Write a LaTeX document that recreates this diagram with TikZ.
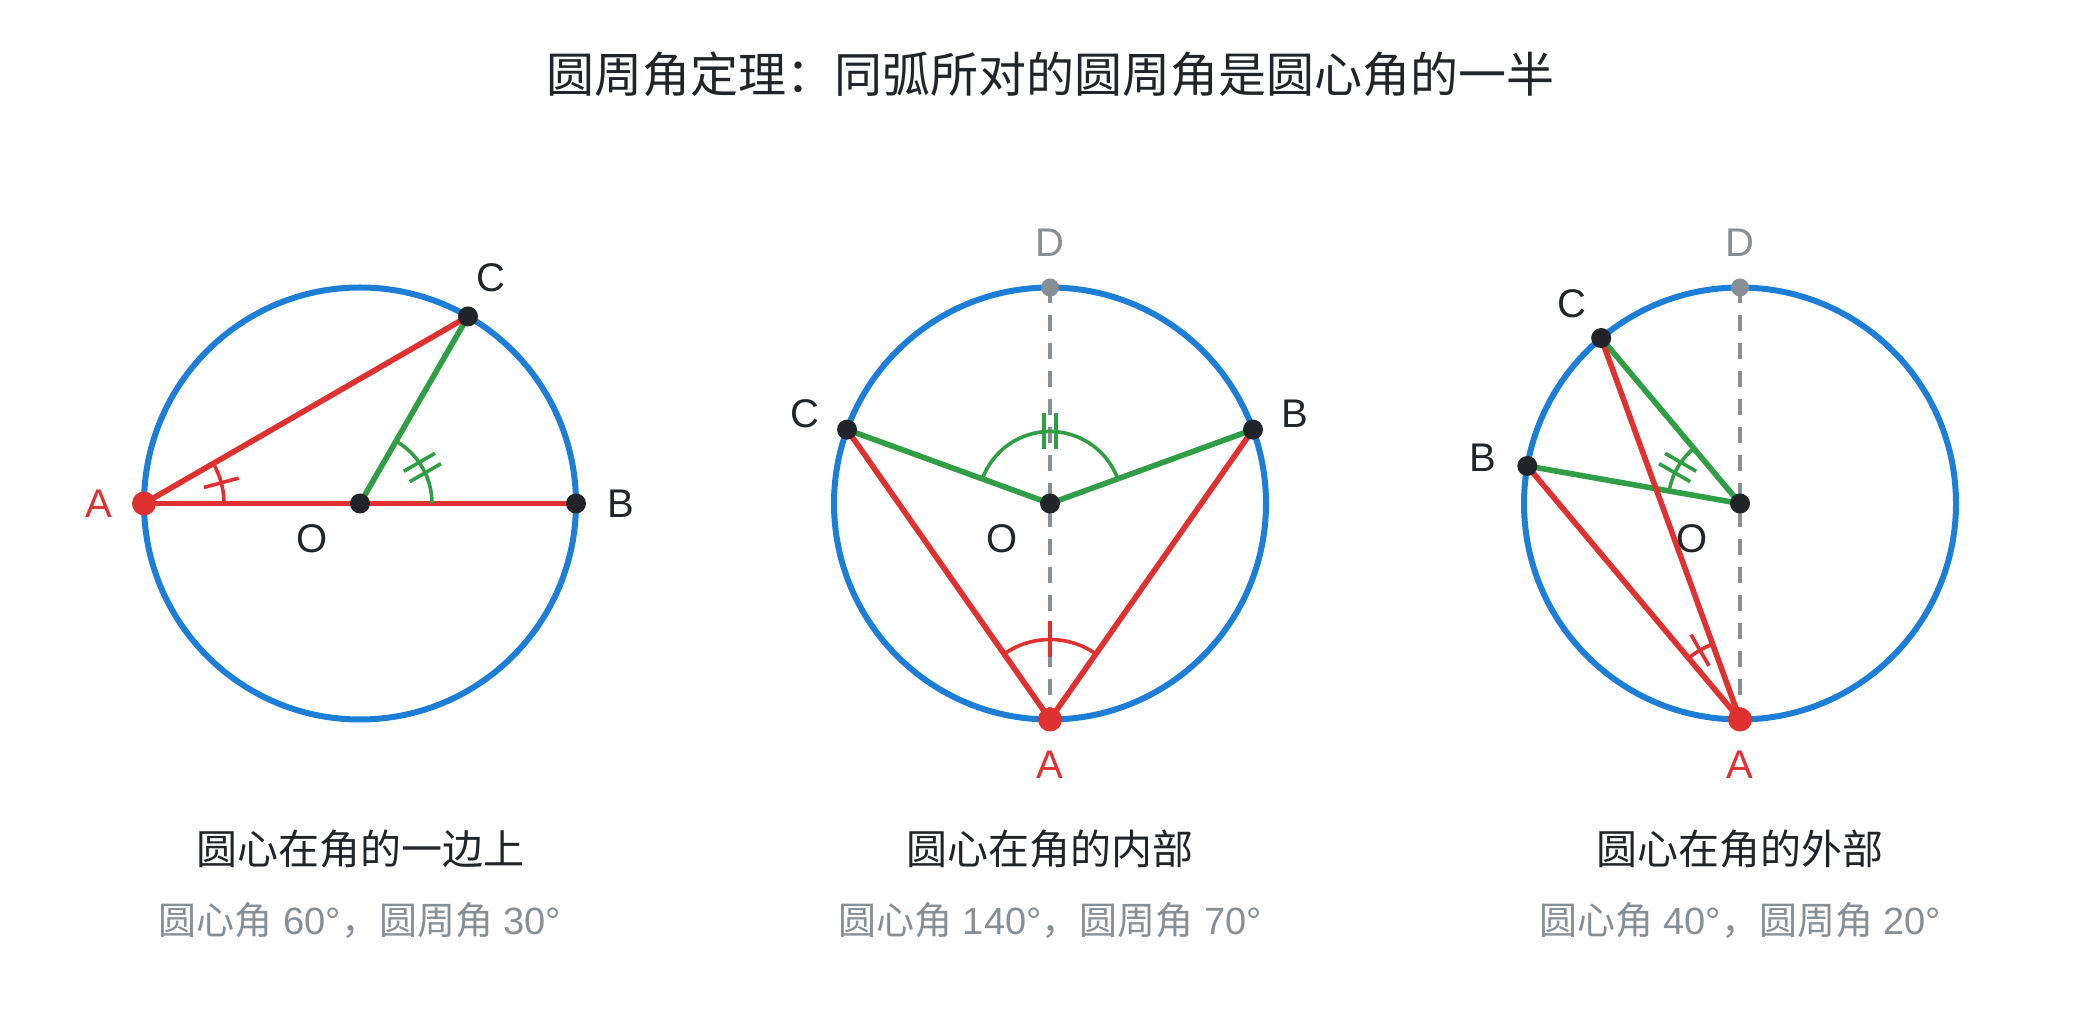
\documentclass[tikz,border=0pt]{standalone}
\usepackage{fontspec}
\setmainfont{Liberation Sans}
\newfontfamily\cjk{Noto Sans CJK SC}
\usepackage{tikz}
\usetikzlibrary{positioning}
\usetikzlibrary{calc}
\definecolor{circblue}{HTML}{1C7ED6}
\definecolor{angred}{HTML}{E03131}
\definecolor{anggreen}{HTML}{2F9E44}
\definecolor{inkdark}{HTML}{212529}
\definecolor{inkgray}{HTML}{868E96}
\tikzstyle{dot}=[circle,fill=inkdark,inner sep=0pt,minimum size=20pt]
\tikzstyle{reddot}=[dot,fill=angred,minimum size=24pt]
\tikzstyle{graydot}=[dot,fill=inkgray,minimum size=18pt]
\tikzstyle{rim}=[draw=circblue,line width=6pt]
\tikzstyle{chord}=[angred,line width=5.6pt]
\tikzstyle{spoke}=[anggreen,line width=5.6pt]
\tikzstyle{diam}=[inkgray,line width=4pt,dash pattern=on 16pt off 12pt]
\tikzstyle{redmark}=[angred,line width=3.6pt]
\tikzstyle{greenmark}=[anggreen,line width=3.6pt]
\tikzstyle{ptlabel}=[font=\fontsize{40}{48}\selectfont,text=inkdark]
\tikzstyle{subtitle}=[font=\cjk\fontsize{41}{49}\selectfont,text=inkdark]
\tikzstyle{caption}=[font=\fontsize{38}{46}\selectfont,text=inkgray]

\begin{document}
\begin{tikzpicture}[x=1pt,y=1pt]
\useasboundingbox (0,0) rectangle (2100,1020);
\node[font=\cjk\fontsize{48}{58}\selectfont,text=inkdark] (title) at (1050,946) {圆周角定理：同弧所对的圆周角是圆心角的一半};

% centre on one side of the angle
\begin{scope}[shift={(360,516.5)}]
\coordinate (O1) at (0,0);
\coordinate (A1) at (180:216);
\coordinate (B1) at (0:216);
\coordinate (C1) at (60:216);
\draw[rim] (O1) circle (216pt);
\draw[spoke] (O1) -- (C1);
\draw[spoke] (O1) -- (B1);
\draw[chord] (A1) -- (C1);
\draw[chord] (A1) -- (B1);
\draw[redmark] ($(A1)+(0:80)$) arc[start angle=0,end angle=30,radius=80pt];
\draw[redmark] ($(A1)+(15:62)$) -- ($(A1)+(15:98)$);
\draw[greenmark] ($(O1)+(0:72)$) arc[start angle=0,end angle=60,radius=72pt];
\foreach \s in {-6,6}
  \draw[greenmark] ($(O1)+(30:54)+(120:\s)$) -- ($(O1)+(30:90)+(120:\s)$);
\node[reddot] (dA1) at (A1) {};
\node[dot] (dO1) at (O1) {};
\node[dot] (dB1) at (B1) {};
\node[dot] (dC1) at (C1) {};
\node[ptlabel,text=angred] (lA1) at (180:261) {A};
\node[ptlabel] (lB1) at (0:261) {B};
\node[ptlabel] (lC1) at (60:261) {C};
\node[ptlabel] (lO1) at (-48,-35) {O};
\end{scope}
\node[subtitle] (sub1) at (360,171) {圆心在角的一边上};
\node[caption] (cap1) at (360,99) {{\cjk 圆心角} 60°{\cjk ，圆周角} 30°};

% centre inside the angle
\begin{scope}[shift={(1050,516.5)}]
\coordinate (O2) at (0,0);
\coordinate (A2) at (270:216);
\coordinate (B2) at (20:216);
\coordinate (C2) at (160:216);
\coordinate (D2) at (90:216);
\draw[rim] (O2) circle (216pt);
\draw[diam] (D2) -- (A2);
\draw[spoke] (O2) -- (C2);
\draw[spoke] (O2) -- (B2);
\draw[chord] (A2) -- (C2);
\draw[chord] (A2) -- (B2);
\draw[redmark] ($(A2)+(55:80)$) arc[start angle=55,end angle=125,radius=80pt];
\draw[redmark] ($(A2)+(90:62)$) -- ($(A2)+(90:98)$);
\draw[greenmark] ($(O2)+(20:72)$) arc[start angle=20,end angle=160,radius=72pt];
\foreach \s in {-6,6}
  \draw[greenmark] ($(O2)+(90:54)+(180:\s)$) -- ($(O2)+(90:90)+(180:\s)$);
\node[reddot] (dA2) at (A2) {};
\node[dot] (dO2) at (O2) {};
\node[dot] (dB2) at (B2) {};
\node[dot] (dC2) at (C2) {};
\node[graydot] (dD2) at (D2) {};
\node[ptlabel,text=angred] (lA2) at (270:261) {A};
\node[ptlabel] (lB2) at (20:261) {B};
\node[ptlabel] (lC2) at (160:261) {C};
\node[ptlabel,text=inkgray] (lD2) at (90:261) {D};
\node[ptlabel] (lO2) at (-48,-35) {O};
\end{scope}
\node[subtitle] (sub2) at (1050,171) {圆心在角的内部};
\node[caption] (cap2) at (1050,99) {{\cjk 圆心角} 140°{\cjk ，圆周角} 70°};

% centre outside the angle
\begin{scope}[shift={(1740,516.5)}]
\coordinate (O3) at (0,0);
\coordinate (A3) at (270:216);
\coordinate (B3) at (170:216);
\coordinate (C3) at (130:216);
\coordinate (D3) at (90:216);
\draw[rim] (O3) circle (216pt);
\draw[diam] (D3) -- (A3);
\draw[spoke] (O3) -- (C3);
\draw[spoke] (O3) -- (B3);
\draw[chord] (A3) -- (C3);
\draw[chord] (A3) -- (B3);
\draw[redmark] ($(A3)+(110:80)$) arc[start angle=110,end angle=130,radius=80pt];
\draw[redmark] ($(A3)+(120:62)$) -- ($(A3)+(120:98)$);
\draw[greenmark] ($(O3)+(130:72)$) arc[start angle=130,end angle=170,radius=72pt];
\foreach \s in {-6,6}
  \draw[greenmark] ($(O3)+(150:54)+(240:\s)$) -- ($(O3)+(150:90)+(240:\s)$);
\node[reddot] (dA3) at (A3) {};
\node[dot] (dO3) at (O3) {};
\node[dot] (dB3) at (B3) {};
\node[dot] (dC3) at (C3) {};
\node[graydot] (dD3) at (D3) {};
\node[ptlabel,text=angred] (lA3) at (270:261) {A};
\node[ptlabel] (lB3) at (170:261) {B};
\node[ptlabel] (lC3) at (130:261) {C};
\node[ptlabel,text=inkgray] (lD3) at (90:261) {D};
\node[ptlabel] (lO3) at (-48,-35) {O};
\end{scope}
\node[subtitle] (sub3) at (1740,171) {圆心在角的外部};
\node[caption] (cap3) at (1740,99) {{\cjk 圆心角} 40°{\cjk ，圆周角} 20°};
\end{tikzpicture}
\end{document}
